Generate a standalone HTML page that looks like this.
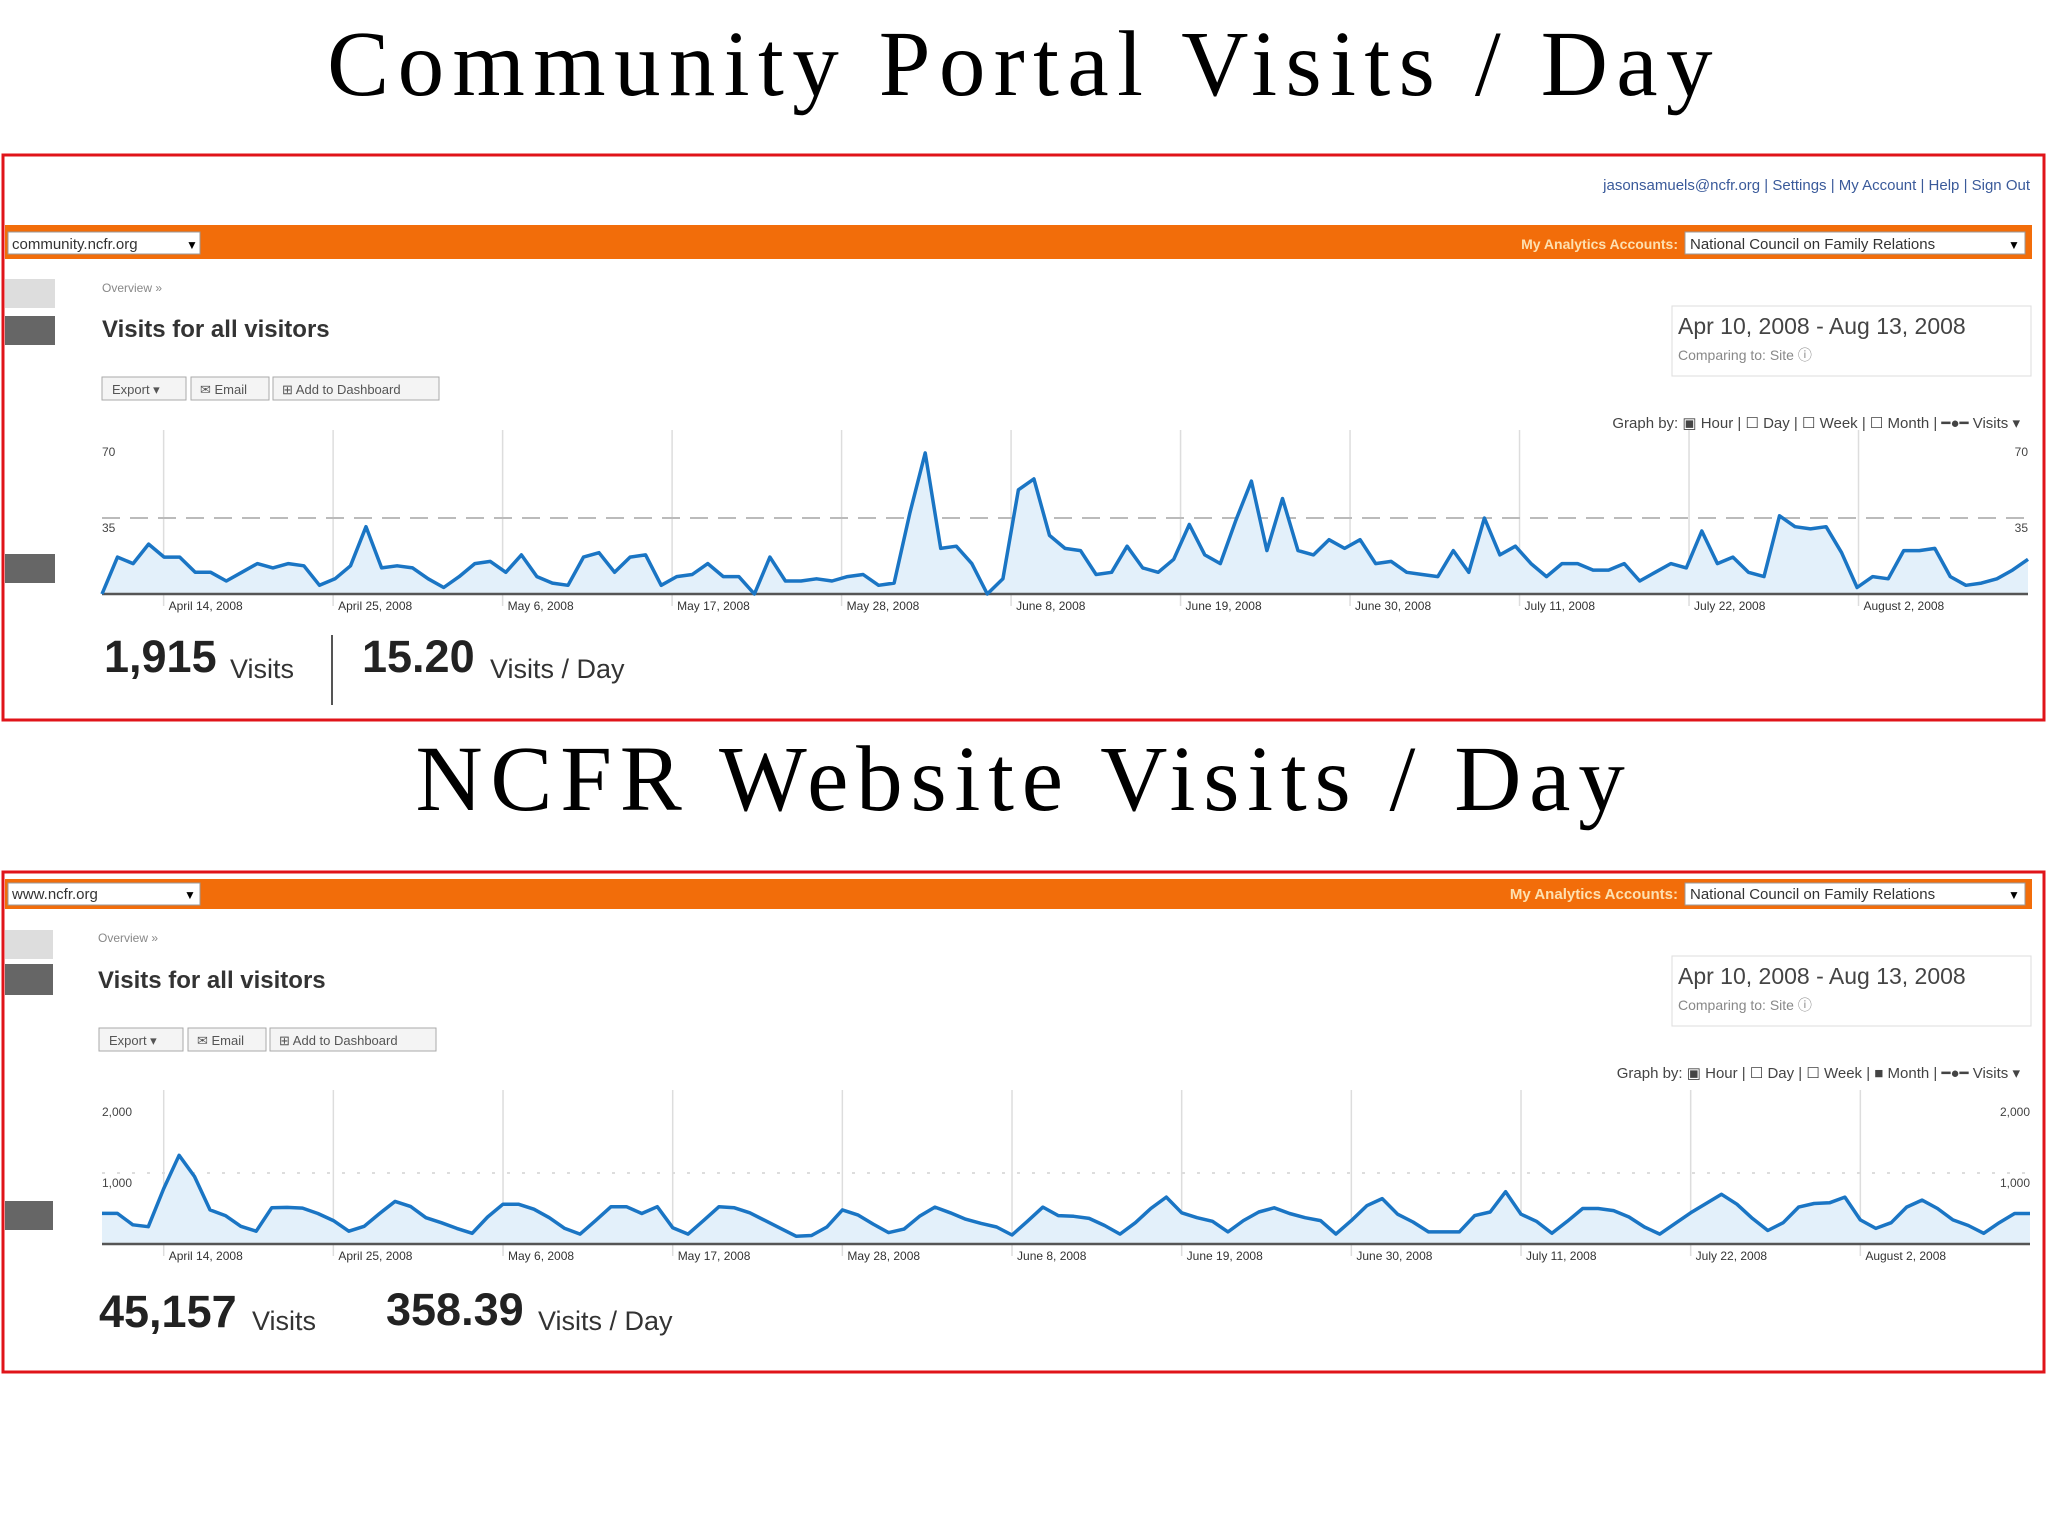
<!DOCTYPE html>
<html><head><meta charset="utf-8"><style>
html,body{margin:0;padding:0;background:#fff;}
svg{display:block;font-family:"Liberation Sans",sans-serif;}
</style></head><body>
<svg id="page" width="2048" height="1536" viewBox="0 0 2048 1536" xmlns="http://www.w3.org/2000/svg">
<text x="1024" y="95" text-anchor="middle" font-family="Liberation Serif, serif" font-size="93" letter-spacing="8.4" fill="#000">Community Portal Visits / Day</text>
<text x="1024" y="810" text-anchor="middle" font-family="Liberation Serif, serif" font-size="93" letter-spacing="7.8" fill="#000">NCFR Website Visits / Day</text>

<g id="panel1">
<rect x="3" y="155" width="2041" height="565" fill="#fff" stroke="#e0141a" stroke-width="3"/>
<text x="2030" y="190" text-anchor="end" font-size="15" fill="#3a5a9a">jasonsamuels@ncfr.org | Settings | My Account | Help | Sign Out</text>
<rect x="5" y="225" width="2027" height="34" fill="#f26d0a"/>
<rect x="8" y="232" width="192" height="22" fill="#fff" stroke="#999"/>
<text x="12" y="249" font-size="15" fill="#333">community.ncfr.org</text><text x="186" y="249" font-size="12">▼</text>
<text x="1678" y="249" text-anchor="end" font-size="14" font-weight="bold" fill="#fde0b0">My Analytics Accounts:</text>
<rect x="1685" y="232" width="340" height="22" fill="#fff" stroke="#999"/>
<text x="1690" y="249" font-size="15" fill="#333">National Council on Family Relations</text><text x="2008" y="249" font-size="12">▼</text>
<rect x="5" y="279" width="50" height="29" fill="#ddd"/><rect x="5" y="316" width="50" height="29" fill="#666"/><rect x="5" y="554" width="50" height="29" fill="#666"/>
<text x="102" y="292" font-size="12" fill="#888">Overview »</text>
<text x="102" y="337" font-size="24" font-weight="bold" fill="#333">Visits for all visitors</text>
<g><rect x="102" y="377" width="84" height="23" fill="#f4f4f4" stroke="#aaa"/><text x="112" y="394" font-size="13" fill="#555">Export ▾</text><rect x="191" y="377" width="78" height="23" fill="#f4f4f4" stroke="#aaa"/><text x="200" y="394" font-size="13" fill="#555">✉ Email</text><rect x="273" y="377" width="166" height="23" fill="#f4f4f4" stroke="#aaa"/><text x="282" y="394" font-size="13" fill="#555">⊞ Add to Dashboard</text></g>
<g><rect x="1672" y="306" width="359" height="70" fill="#fff" stroke="#ddd"/><text x="1678" y="334" font-size="23" fill="#444">Apr 10, 2008 - Aug 13, 2008</text><text x="1678" y="360" font-size="14" fill="#888">Comparing to: Site ⓘ</text></g>
<text x="2020" y="428" text-anchor="end" font-size="15" fill="#444">Graph by: ▣ Hour | ☐ Day | ☐ Week | ☐ Month | ━●━ Visits ▾</text>
<g id="chart1"></g>
<text x="104" y="672" font-size="45" font-weight="bold" fill="#222">1,915</text><text x="230" y="678" font-size="27" fill="#333">Visits</text>
<line x1="332" y1="635" x2="332" y2="705" stroke="#555" stroke-width="2"/>
<text x="362" y="672" font-size="45" font-weight="bold" fill="#222">15.20</text><text x="490" y="678" font-size="27" fill="#333">Visits / Day</text>
</g>

<g id="panel2">
<rect x="3" y="872" width="2041" height="500" fill="#fff" stroke="#e0141a" stroke-width="3"/>
<rect x="5" y="879" width="2027" height="30" fill="#f26d0a"/>
<rect x="8" y="883" width="192" height="22" fill="#fff" stroke="#999"/>
<text x="12" y="899" font-size="15" fill="#333">www.ncfr.org</text><text x="184" y="899" font-size="12">▼</text>
<text x="1678" y="899" text-anchor="end" font-size="15" font-weight="bold" fill="#fde0b0">My Analytics Accounts:</text>
<rect x="1685" y="883" width="340" height="22" fill="#fff" stroke="#999"/>
<text x="1690" y="899" font-size="15" fill="#333">National Council on Family Relations</text><text x="2008" y="899" font-size="12">▼</text>
<rect x="5" y="930" width="48" height="29" fill="#ddd"/><rect x="5" y="964" width="48" height="31" fill="#666"/><rect x="5" y="1201" width="48" height="29" fill="#666"/>
<text x="98" y="942" font-size="12" fill="#888">Overview »</text>
<text x="98" y="988" font-size="24" font-weight="bold" fill="#333">Visits for all visitors</text>
<g><rect x="99" y="1028" width="84" height="23" fill="#f4f4f4" stroke="#aaa"/><text x="109" y="1045" font-size="13" fill="#555">Export ▾</text><rect x="188" y="1028" width="78" height="23" fill="#f4f4f4" stroke="#aaa"/><text x="197" y="1045" font-size="13" fill="#555">✉ Email</text><rect x="270" y="1028" width="166" height="23" fill="#f4f4f4" stroke="#aaa"/><text x="279" y="1045" font-size="13" fill="#555">⊞ Add to Dashboard</text></g>
<g><rect x="1672" y="956" width="359" height="70" fill="#fff" stroke="#ddd"/><text x="1678" y="984" font-size="23" fill="#444">Apr 10, 2008 - Aug 13, 2008</text><text x="1678" y="1010" font-size="14" fill="#888">Comparing to: Site ⓘ</text></g>
<text x="2020" y="1078" text-anchor="end" font-size="15" fill="#444">Graph by: ▣ Hour | ☐ Day | ☐ Week | ■ Month | ━●━ Visits ▾</text>
<g id="chart2"></g>
<text x="99" y="1327" font-size="45" font-weight="bold" fill="#222">45,157</text><text x="252" y="1330" font-size="27" fill="#333">Visits</text>
<text x="386" y="1325" font-size="45" font-weight="bold" fill="#222">358.39</text><text x="538" y="1330" font-size="27" fill="#333">Visits / Day</text>
</g>
</svg>
<script>
const weekLabels1 = ["April 14, 2008","April 25, 2008","May 6, 2008","May 17, 2008","May 28, 2008","June 8, 2008","June 19, 2008","June 30, 2008","July 11, 2008","July 22, 2008","August 2, 2008"];
const weekLabels2 = ["April 14, 2008","April 25, 2008","May 6, 2008","May 17, 2008","May 28, 2008","June 8, 2008","June 19, 2008","June 30, 2008","July 11, 2008","July 22, 2008","August 2, 2008"];
const weekDayIndex = [4,15,26,37,48,59,70,81,92,103,114];
const ticks1 = [35,70];
const tickLabels1 = ["35","70"];
const ticks2 = [1000,2000];
const tickLabels2 = ["1,000","2,000"];
const portalVisits = [0,17,14,23,17,17,10,10,6,10,14,12,14,13,4,7,13,31,12,13,12,7,3,8,14,15,10,18,8,5,4,17,19,10,17,18,4,8,9,14,8,8,0,17,6,6,7,6,8,9,4,5,37,65,21,22,14,0,7,48,53,
27,21,20,9,10,22,12,10,16,32,18,14,34,52,20,44,20,18,25,21,25,14,15,10,9,8,20,10,35,18,22,14,8,14,14,11,11,14,6,10,14,12,29,14,17,10,8,36,31,30,31,19,3,8,7,20,20,21,8,4,5,7,11,16];
const websiteVisits = [431,431,270,244,780,1250,950,480,400,250,180,510,515,505,430,330,180,250,430,600,530,370,300,220,150,380,560,560,490,370,220,140,330,525,525,430,525,230,140,330,525,510,440,330,220,110,120,240,480,410,280,160,210,390,520,440,350,290,240,127,320,520,400,390,360,260,140,300,500,660,440,370,320,170,330,450,510,430,370,330,140,330,540,640,420,310,170,170,170,400,450,737,420,320,150,320,500,500,470,380,240,140,290,440,570,700,560,360,190,300,520,570,580,660,340,220,300,520,619,500,340,260,150,300,430,430];
const NS='http://www.w3.org/2000/svg';
function mk(parent,tag,attrs){const e=document.createElementNS(NS,tag);for(const k in attrs)e.setAttribute(k,attrs[k]);parent.appendChild(e);return e;}
function drawChart(g,data,maxV,x0,x1,yBase,yMax,ticks,tickLabels,weekLabels,dashed){
  const sx=i=>x0+i*(x1-x0)/(data.length-1);
  const dx=d=>x0+d*(x1-x0)/125;
  const sy=v=>yBase-v/maxV*(yBase-yMax);
  weekDayIndex.forEach((d,k)=>{
    const l=mk(g,'line',{x1:dx(d),x2:dx(d),y1:yMax-12,y2:yBase+12,stroke:'#ddd','stroke-width':1.5});
    
    
    const t=mk(g,'text',{x:dx(d)+5,y:yBase+16,'font-size':12,fill:'#333'});
    t.textContent=weekLabels[k];
    
    
  });
  ticks.forEach((v,k)=>{
    if(k===0){const gl=mk(g,'line',{x1:x0,x2:x1,y1:sy(v),y2:sy(v),stroke:dashed?'#bbb':'#ddd','stroke-width':2,'stroke-dasharray':dashed?'18 10':'3 12'});
    
    }
    const a=mk(g,'text',{x:x0,y:sy(v)+14,'font-size':12,fill:'#444'});a.textContent=tickLabels[k];
    
    
    const b=mk(g,'text',{x:x1,y:sy(v)+14,'font-size':12,fill:'#444','text-anchor':'end'});b.textContent=tickLabels[k];
    
    
  });
  let d='';data.forEach((v,i)=>{d+=(i?'L':'M')+sx(i).toFixed(1)+','+sy(v).toFixed(1);});
  const area=mk(g,'path',{d:d+'L'+x1+','+yBase+'L'+x0+','+yBase+'Z',fill:'#e3f0fa'});
  
  
  const ax=mk(g,'line',{x1:x0,x2:x1,y1:yBase,y2:yBase,stroke:'#555','stroke-width':2.5});
  
  
  const line=mk(g,'path',{d:d,fill:'none',stroke:'#1a75c4','stroke-width':3.5,'stroke-linejoin':'round'});
  
  
}
drawChart(document.getElementById('chart1'),portalVisits,70,102,2028,594,442,ticks1,tickLabels1,weekLabels1,true);
drawChart(document.getElementById('chart2'),websiteVisits,2000,102,2030,1244,1102,ticks2,tickLabels2,weekLabels2,false);
</script>
</body></html>
